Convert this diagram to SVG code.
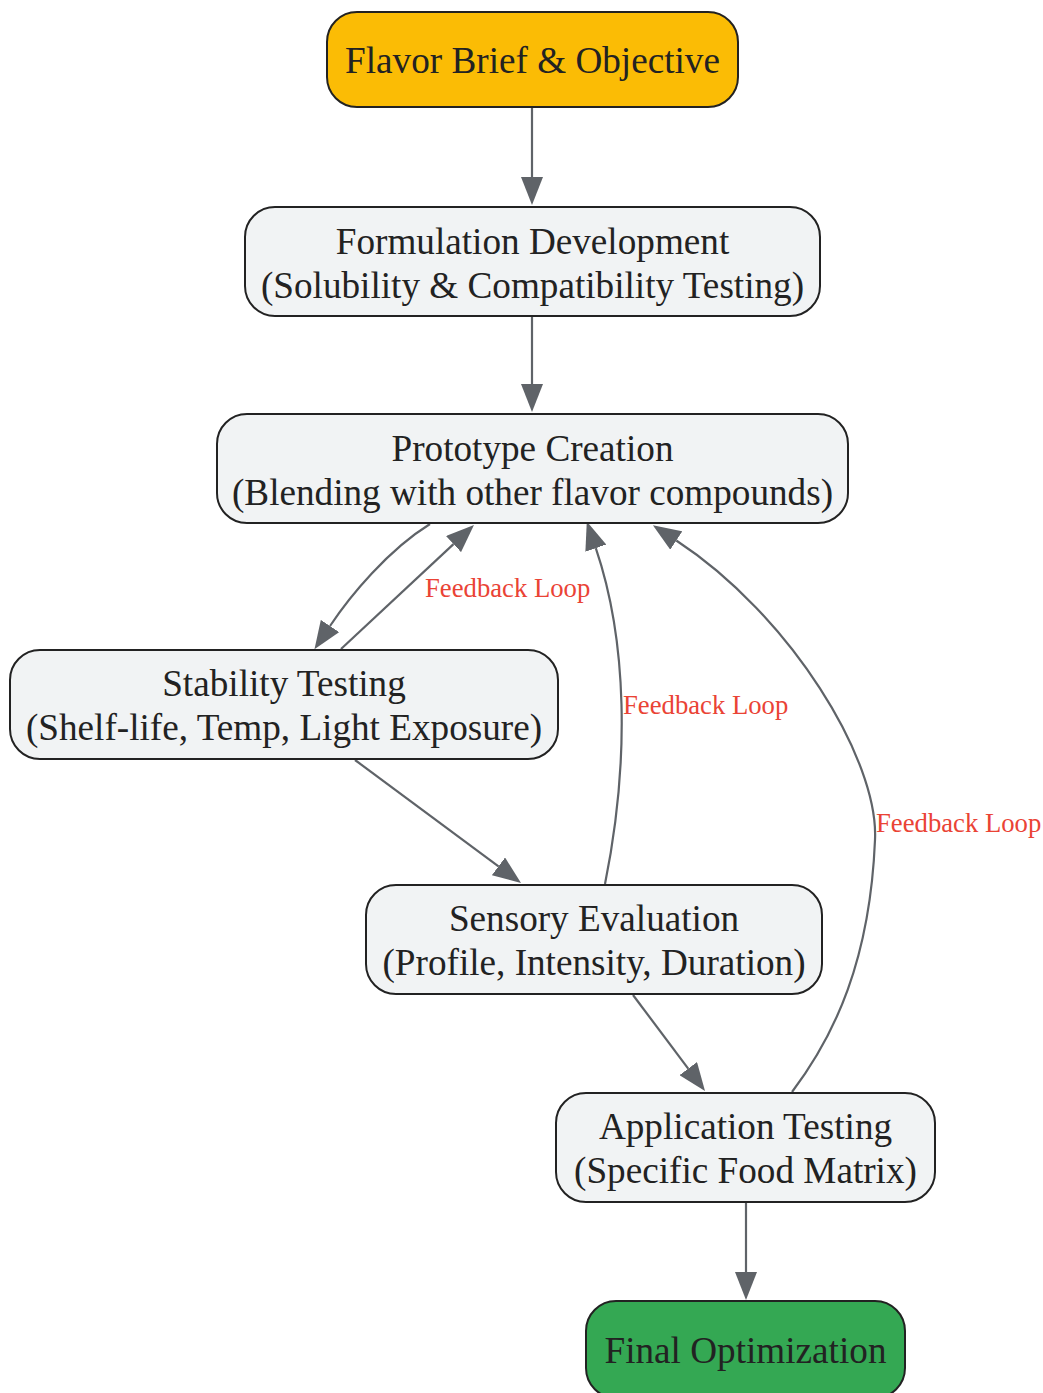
<svg xmlns="http://www.w3.org/2000/svg" width="1043" height="1393" viewBox="0 0 1043 1393">
<defs>
<style>
.node rect{stroke:#222;stroke-width:2}
.n{fill:#F1F3F4}
.start{fill:#FBBC05}
.end{fill:#34A853}
.node text{font-family:"Liberation Serif","Times New Roman",serif;font-size:37.2px;fill:#222;text-anchor:middle}
.edge{fill:none;stroke:#5F6368;stroke-width:2.2;marker-end:url(#ah)}
.lbl{font-family:"Liberation Serif","Times New Roman",serif;font-size:26.7px;fill:#EA4335}
</style>
<marker id="ah" markerUnits="userSpaceOnUse" markerWidth="28" markerHeight="22" refX="0" refY="11" orient="auto" viewBox="0 0 28 22">
<path d="M0,0 L28,11 L0,22 Z" fill="#5F6368"/>
</marker>
</defs>
<rect width="1043" height="1393" fill="#fff"/>
<g id="edges">
<path class="edge" d="M532,108 L532,177"/>
<path class="edge" d="M532,317 L532,384"/>
<path class="edge" d="M430,524 C388,550 350,596 330,626"/>
<path class="edge" d="M341,649 L453.5,544.1"/>
<path class="edge" d="M355,760 L498.5,866.3"/>
<path class="edge" d="M605,884 C630,760 627,640 595.8,548.1"/>
<path class="edge" d="M633,995 L688.2,1068.6"/>
<path class="edge" d="M792,1092 C835,1035 870,960 875,840 C879,760 790,615 676.3,540.5"/>
<path class="edge" d="M746,1203 L746,1272"/>
<text class="lbl" x="425" y="597">Feedback Loop</text>
<text class="lbl" x="623" y="714">Feedback Loop</text>
<text class="lbl" x="876" y="832">Feedback Loop</text>
</g>
<g id="brief" class="node"><rect class="start" x="327" y="12" width="411" height="95" rx="30"/><text x="532.5" y="73">Flavor Brief &amp; Objective</text></g>
<g id="formulation" class="node"><rect class="n" x="245" y="207" width="575" height="109" rx="30"/><text x="532.5" y="253.5">Formulation Development</text><text x="532.5" y="297.5">(Solubility &amp; Compatibility Testing)</text></g>
<g id="prototype" class="node"><rect class="n" x="217" y="414" width="631" height="109" rx="30"/><text x="532.5" y="460.5">Prototype Creation</text><text x="532.5" y="504.5">(Blending with other flavor compounds)</text></g>
<g id="stability" class="node"><rect class="n" x="10" y="650" width="548" height="109" rx="30"/><text x="284" y="695.5">Stability Testing</text><text x="284" y="739.5">(Shelf-life, Temp, Light Exposure)</text></g>
<g id="sensory" class="node"><rect class="n" x="366" y="885" width="456" height="109" rx="30"/><text x="594" y="930.5">Sensory Evaluation</text><text x="594" y="974.5">(Profile, Intensity, Duration)</text></g>
<g id="application" class="node"><rect class="n" x="556" y="1093" width="379" height="109" rx="30"/><text x="745.5" y="1138.5">Application Testing</text><text x="745.5" y="1182.5">(Specific Food Matrix)</text></g>
<g id="final" class="node"><rect class="end" x="586" y="1301" width="319" height="97" rx="30"/><text x="745.5" y="1363">Final Optimization</text></g>
</svg>
